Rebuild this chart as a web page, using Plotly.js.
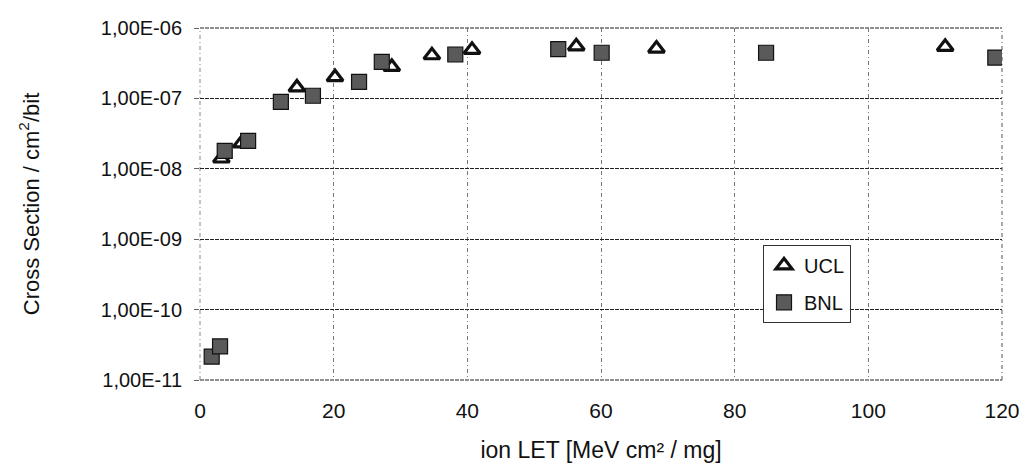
<!DOCTYPE html>
<html>
<head>
<meta charset="utf-8">
<script src="https://cdn.plot.ly/plotly-3.0.1.min.js"></script>
<style>html,body{margin:0;padding:0;background:#fff;}#chart{width:1034px;height:473px;}</style>
</head>
<body>
<div id="chart"></div>
<script>
// UCL series (triangles)
const uclLET = [3.2, 6.2, 14.5, 20.2, 28.7, 34.7, 40.7, 56.3, 68.3, 111.5];
const uclXS  = [1.4e-8, 2.3e-8, 1.43e-7, 2.0e-7, 2.8e-7, 4.1e-7, 4.9e-7, 5.5e-7, 5.1e-7, 5.4e-7];
// BNL series (squares)
const bnlLET = [1.75, 3.0, 3.7, 7.2, 12.1, 16.9, 23.8, 27.2, 38.2, 53.6, 60.1, 84.7, 119];
const bnlXS  = [2.15e-11, 3.0e-11, 1.8e-8, 2.5e-8, 8.9e-8, 1.09e-7, 1.72e-7, 3.3e-7, 4.2e-7, 5.0e-7, 4.45e-7, 4.45e-7, 3.8e-7];
// Axis ticks
const yTickVals = [1e-11, 1e-10, 1e-9, 1e-8, 1e-7, 1e-6];
const yTickText = ["1,00E-11", "1,00E-10", "1,00E-09", "1,00E-08", "1,00E-07", "1,00E-06"];
const xTickVals = [0, 20, 40, 60, 80, 100, 120];

const font = "Liberation Sans, Arial, sans-serif";
const hDash = "4px,1px";
const vDash = "4px,3px,1px,3px";

const traces = [
  {
    x: uclLET, y: uclXS, name: "UCL", type: "scatter", mode: "markers",
    legendgroup: "a",
    marker: {symbol: "triangle-up", size: 14, color: "#ffffff", line: {color: "#111", width: 3.2}}
  },
  {
    x: bnlLET, y: bnlXS, name: "BNL", type: "scatter", mode: "markers",
    legendgroup: "b",
    marker: {symbol: "square", size: 15, color: "#5a5a5a", line: {color: "#111", width: 1.2}}
  }
];

const layout = {
  width: 1034, height: 473,
  paper_bgcolor: "#fff", plot_bgcolor: "#fff",
  margin: {l: 200, r: 32, t: 28, b: 93},
  font: {family: font, color: "#111"},
  showlegend: true,
  legend: {
    x: 0.702, y: 0.384, xanchor: "left", yanchor: "top",
    bgcolor: "#fff", bordercolor: "#333", borderwidth: 1,
    font: {family: font, size: 20, color: "#111"},
    tracegroupgap: 8
  },
  shapes: [
    {type: "line", xref: "paper", yref: "paper", x0: 0, x1: 1, y0: 1, y1: 1, line: {color: "#222", width: 1.2, dash: hDash}, layer: "below"},
    {type: "line", xref: "paper", yref: "paper", x0: 0, x1: 1, y0: 0, y1: 0, line: {color: "#222", width: 1.2, dash: hDash}, layer: "below"},
    {type: "line", xref: "paper", yref: "paper", x0: 0, x1: 0, y0: 0, y1: 1, line: {color: "#888", width: 1, dash: vDash}, layer: "below"},
    {type: "line", xref: "paper", yref: "paper", x0: 1, x1: 1, y0: 0, y1: 1, line: {color: "#555", width: 1, dash: vDash}, layer: "below"}
  ],
  xaxis: {
    type: "linear", range: [0, 120],
    tickmode: "array", tickvals: xTickVals,
    tickfont: {family: font, size: 21, color: "#111"},
    ticks: "", ticklabelstandoff: 16,
    showgrid: true, gridcolor: "#777", gridwidth: 1, griddash: vDash,
    zeroline: false, showline: false,
    title: {text: "ion LET [MeV cm² / mg]", font: {family: font, size: 23, color: "#111"}, standoff: 20}
  },
  yaxis: {
    type: "log", range: [-11, -6],
    tickmode: "array", tickvals: yTickVals, ticktext: yTickText,
    tickfont: {family: font, size: 20, color: "#111"},
    ticks: "outside", ticklen: 5, tickcolor: "#666", ticklabelstandoff: 8,
    showgrid: true, gridcolor: "#222", gridwidth: 1.2, griddash: hDash,
    zeroline: false, showline: false,
    title: {text: "Cross Section / cm<sup>2</sup>/bit", font: {family: font, size: 22, color: "#111"}, standoff: 55}
  }
};

Plotly.newPlot("chart", traces, layout, {displayModeBar: false, staticPlot: true});
</script>
</body>
</html>
